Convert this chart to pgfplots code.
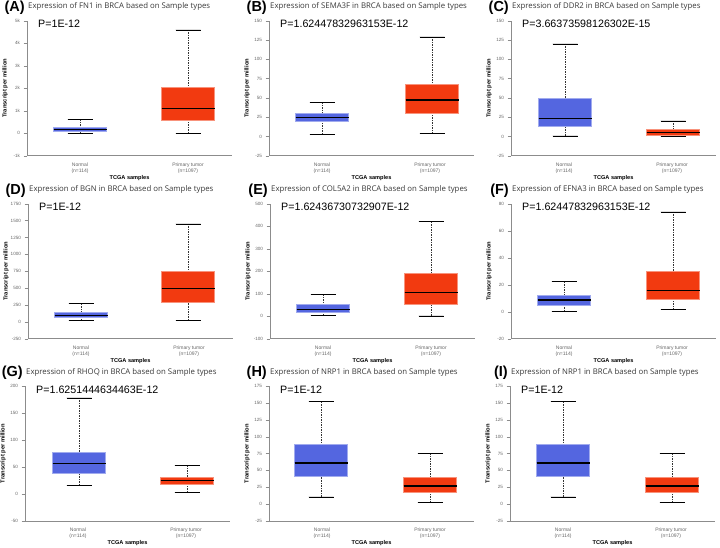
\documentclass[border=0pt]{standalone}
\usepackage{fontspec}
\setmainfont{Liberation Sans}
\newfontfamily\titlefont{Open Sans}
\usepackage{pgfplots}
\pgfplotsset{compat=1.18}
\usepgfplotslibrary{statistics}

\definecolor{nblue}{RGB}{84,102,224}
\definecolor{tred}{RGB}{242,58,16}

\pgfplotsset{
  boxplot/draw/lower whisker/.code={%
    \draw[black!80, dash pattern=on 1.5pt off 1pt, line width=0.5pt, fill=none]
      (boxplot box cs:\pgfplotsboxplotvalue{lower whisker},0.5) --
      (boxplot box cs:\pgfplotsboxplotvalue{lower quartile},0.5);
    \draw[black, line width=0.6pt]
      (boxplot whisker cs:\pgfplotsboxplotvalue{lower whisker},0) --
      (boxplot whisker cs:\pgfplotsboxplotvalue{lower whisker},1);
  },
  boxplot/draw/upper whisker/.code={%
    \draw[black!80, dash pattern=on 1.5pt off 1pt, line width=0.5pt, fill=none]
      (boxplot box cs:\pgfplotsboxplotvalue{upper whisker},0.5) --
      (boxplot box cs:\pgfplotsboxplotvalue{upper quartile},0.5);
    \draw[black, line width=0.6pt]
      (boxplot whisker cs:\pgfplotsboxplotvalue{upper whisker},0) --
      (boxplot whisker cs:\pgfplotsboxplotvalue{upper whisker},1);
  },
  boxplot/every median/.style={black, line width=1.2pt},
  panel/.style={
    scale only axis, width=205pt, height=135pt,
    axis lines*=left,
    axis line style={black!45, line width=0.5pt},
    xmin=0, xmax=205,
    xtick={53,161},
    xticklabels={{Normal\\(n=114)},{Primary tumor\\(n=1097)}},
    x tick label style={align=center, font=\fontsize{5}{6}\selectfont, text=black!60},
    major x tick style={draw=none},
    ytick style={black!45},
    tick align=outside, major tick length=3.5pt,
    y tick label style={font=\fontsize{4.6}{5}\selectfont, text=black!60},
    /pgf/number format/assume math mode=true,
    /pgf/number format/1000 sep={},
    scaled y ticks=false,
    xlabel={TCGA samples},
    xlabel style={at={(axis description cs:0.5,0)}, anchor=center, yshift=-22pt,
      font=\bfseries\fontsize{5.6}{6}\selectfont},
    ylabel={Transcript per million},
    ylabel style={at={(axis description cs:-0.107,0.5)}, anchor=center,
      font=\bfseries\fontsize{5.8}{6}\selectfont},
    boxplot/draw direction=y,
    boxplot/box extend=53,
    boxplot/whisker extend=25,
    clip=false,
  },
}

% draw position, lower whisker, lower quartile, median, upper quartile, upper whisker, colour
\newcommand{\gbox}[7]{%
  \addplot[boxplot prepared={draw position=#1, lower whisker=#2,
      lower quartile=#3, median=#4, upper quartile=#5, upper whisker=#6},
    fill=#7, draw=#7!55!white, line width=0.8pt] coordinates {};}

% letter, gene, p value
\newcommand{\phead}[3]{%
  \node[anchor=base west, inner sep=0pt, font=\titlefont\fontsize{7.8}{10}\selectfont,
    text=black!78, xshift=1pt, yshift=12pt] (t) at (rel axis cs:0,1)
    {Expression of #2 in BRCA based on Sample types};
  \node[anchor=base east, inner sep=0pt, font=\bfseries\fontsize{14.5}{15}\selectfont]
    at ([xshift=-3pt,yshift=-2.5pt]t.base west) {(#1)};
  \node[anchor=base west, inner sep=0pt, font=\fontsize{10.7}{12}\selectfont,
    xshift=11pt, yshift=-7pt] at (rel axis cs:0,1) {#3};}

\begin{document}
\begin{tikzpicture}
\path[use as bounding box] (0,0) rectangle (720pt,-547pt);

% (A) FN1
\begin{axis}[panel, at={(27pt,-155.7pt)}, anchor=south west,
  ymin=-1000, ymax=5000, ytick={-1000,0,...,5000},
  yticklabels={-1k,0,1k,2k,3k,4k,5k}]
\gbox{53}{0}{90}{150}{280}{630}{nblue}
\gbox{161}{0}{570}{1100}{2050}{4590}{tred}
\phead{A}{FN1}{P=1E-12}
\end{axis}

% (B) SEMA3F
\begin{axis}[panel, at={(269pt,-155.7pt)}, anchor=south west,
  ymin=-25, ymax=150, ytick={-25,0,...,150}]
\gbox{53}{3}{19.5}{24.5}{29.5}{44.5}{nblue}
\gbox{163}{3.5}{29.3}{47.3}{67.8}{129}{tred}
\phead{B}{SEMA3F}{P=1.62447832963153E-12}
\end{axis}

% (C) DDR2
\begin{axis}[panel, at={(511pt,-155.7pt)}, anchor=south west,
  ymin=-25, ymax=150, ytick={-25,0,...,150}]
\gbox{54}{0.8}{12.9}{22.8}{49.5}{120}{nblue}
\gbox{162}{0}{1.8}{4.8}{8.6}{20.2}{tred}
\phead{C}{DDR2}{P=3.66373598126302E-15}
\end{axis}

% (D) BGN
\begin{axis}[panel, at={(28pt,-338.7pt)}, anchor=south west,
  ymin=-250, ymax=1750, ytick={-250,0,...,1750}]
\gbox{53}{25}{60}{95}{135}{268}{nblue}
\gbox{160}{25}{286}{493}{741}{1452}{tred}
\phead{D}{BGN}{P=1E-12}
\end{axis}

% (E) COL5A2
\begin{axis}[panel, at={(270pt,-338.7pt)}, anchor=south west,
  ymin=-100, ymax=500, ytick={-100,0,...,500}]
\gbox{53}{3}{19}{30}{51}{97}{nblue}
\gbox{161}{1}{52}{107}{191}{420}{tred}
\phead{E}{COL5A2}{P=1.62436730732907E-12}
\end{axis}

% (F) EFNA3
\begin{axis}[panel, at={(511pt,-338.7pt)}, anchor=south west,
  ymin=-20, ymax=80, ytick={-20,0,...,80}]
\gbox{53}{0.5}{4.9}{8.6}{12.1}{22.3}{nblue}
\gbox{162}{1.5}{8.9}{16}{30}{74}{tred}
\phead{F}{EFNA3}{P=1.62447832963153E-12}
\end{axis}

% (G) RHOQ
\begin{axis}[panel, at={(25pt,-521pt)}, anchor=south west,
  ymin=-50, ymax=200, ytick={-50,0,...,200}]
\gbox{54}{16}{37.6}{57}{77}{178}{nblue}
\gbox{162}{3.7}{17.8}{24.6}{30.8}{53.7}{tred}
\phead{G}{RHOQ}{P=1.6251444634463E-12}
\end{axis}

% (H) NRP1
\begin{axis}[panel, at={(269pt,-521pt)}, anchor=south west,
  ymin=-25, ymax=175, ytick={-25,0,...,175}]
\gbox{52}{10.8}{40.7}{61}{88}{152}{nblue}
\gbox{161}{2}{17.6}{27}{39.3}{75.6}{tred}
\phead{H}{NRP1}{P=1E-12}
\end{axis}

% (I) NRP1
\begin{axis}[panel, at={(510pt,-521pt)}, anchor=south west,
  ymin=-25, ymax=175, ytick={-25,0,...,175}]
\gbox{53}{10.8}{40.7}{61}{88}{152}{nblue}
\gbox{162}{2}{17.6}{27}{39.3}{75.6}{tred}
\phead{I}{NRP1}{P=1E-12}
\end{axis}

\end{tikzpicture}
\end{document}
